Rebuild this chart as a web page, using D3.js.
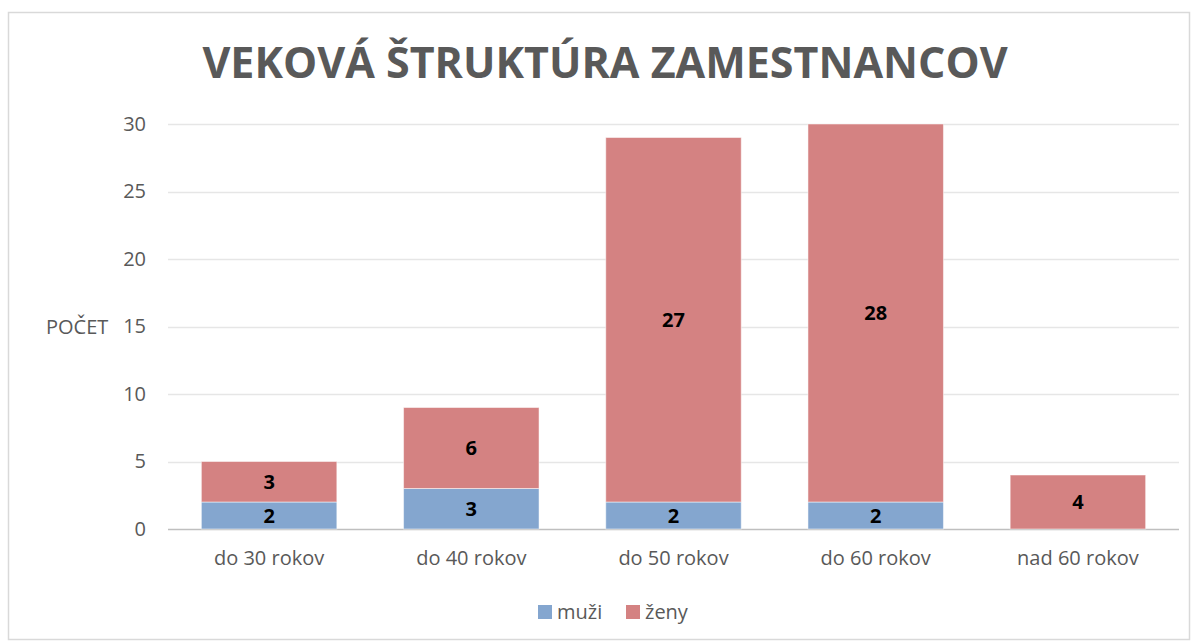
<!DOCTYPE html>
<html>
<head>
<meta charset="utf-8">
<script src="https://cdn.jsdelivr.net/npm/d3@7"></script>
<style>
  body { margin: 0; background: #fff; }
  text { font-family: "Open Sans", "Noto Sans", sans-serif; }
</style>
</head>
<body>
<svg id="chart" width="1197" height="643"></svg>
<script>
const categories = ['do 30 rokov', 'do 40 rokov', 'do 50 rokov', 'do 60 rokov', 'nad 60 rokov'];
const muzi = [2, 3, 2, 2, 0];
const zeny = [3, 6, 27, 28, 4];
const yTicks = [0, 5, 10, 15, 20, 25, 30];
const seriesNames = ['muži', 'ženy'];
const colors = ['#84a6cf', '#d48282'];

const svg = d3.select('#chart');
const margin = {left: 168, right: 18, top: 124, bottom: 114};
const W = 1197, H = 643;

// ramik grafu
svg.append('rect')
    .attr('x', 8.5).attr('y', 12.5)
    .attr('width', 1181).attr('height', 627)
    .attr('fill', '#fff').attr('stroke', '#d9d9d9').attr('stroke-width', 1.5);

const x = d3.scaleBand()
    .domain(categories)
    .range([margin.left, W - margin.right])
    .paddingInner(0.33)
    .paddingOuter(0.165);

const y = d3.scaleLinear()
    .domain([0, 30])
    .range([H - margin.bottom, margin.top]);

// mriezka
svg.append('g')
    .selectAll('line')
    .data(yTicks)
    .join('line')
    .attr('x1', margin.left).attr('x2', W - margin.right)
    .attr('y1', d => Math.round(y(d)) + 0.5).attr('y2', d => Math.round(y(d)) + 0.5)
    .attr('stroke', d => d === 0 ? '#bfbfbf' : '#e6e6e6')
    .attr('stroke-width', d => d === 0 ? 1.5 : 1.3);

// os y
const yAxis = svg.append('g')
    .attr('transform', `translate(${margin.left},0)`)
    .call(d3.axisLeft(y).tickValues(yTicks).tickSize(0).tickPadding(22));
yAxis.select('.domain').remove();
yAxis.selectAll('text')
    .attr('fill', '#595959')
    .style('font-size', '20px');

// os x
const xAxis = svg.append('g')
    .attr('transform', `translate(0,${H - margin.bottom})`)
    .call(d3.axisBottom(x).tickSize(0).tickPadding(22));
xAxis.select('.domain').remove();
xAxis.selectAll('text')
    .attr('fill', '#595959')
    .style('font-size', '20px');

// skladane stlpce
const rows = categories.map((c, i) => ({cat: c, muzi: muzi[i], zeny: zeny[i]}));
const stack = d3.stack().keys(['muzi', 'zeny'])(rows);

const layers = svg.append('g')
    .selectAll('g')
    .data(stack)
    .join('g')
    .attr('fill', (d, i) => colors[i]);

layers.selectAll('rect')
    .data(d => d)
    .join('rect')
    .attr('x', d => x(d.data.cat))
    .attr('width', x.bandwidth())
    .attr('y', d => y(d[1]))
    .attr('height', d => y(d[0]) - y(d[1]))
    .attr('stroke', '#fff')
    .attr('stroke-opacity', 0.5)
    .attr('stroke-width', 1);

// hodnoty
layers.selectAll('text')
    .data(d => d.filter(p => p[1] - p[0] > 0))
    .join('text')
    .attr('x', d => x(d.data.cat) + x.bandwidth() / 2)
    .attr('y', d => (y(d[0]) + y(d[1])) / 2)
    .attr('dy', '0.36em')
    .attr('text-anchor', 'middle')
    .attr('fill', '#000')
    .style('font-size', '20px')
    .style('font-weight', 'bold')
    .text(d => d[1] - d[0]);

// nadpis
svg.append('text')
    .attr('x', 605).attr('y', 78)
    .attr('text-anchor', 'middle')
    .attr('fill', '#595959')
    .style('font-size', '43px')
    .style('font-weight', 'bold')
    .text('VEKOVÁ ŠTRUKTÚRA ZAMESTNANCOV');

// popis osi y
svg.append('text')
    .attr('x', 46).attr('y', y(15))
    .attr('dy', '0.36em')
    .attr('fill', '#595959')
    .style('font-size', '20px')
    .text('POČET');

// legenda
const legendX = [538, 626];
const legend = svg.append('g')
    .selectAll('g')
    .data(seriesNames)
    .join('g')
    .attr('transform', (d, i) => `translate(${legendX[i]},612)`);
legend.append('rect')
    .attr('x', 0).attr('y', -7)
    .attr('width', 14).attr('height', 14)
    .attr('fill', (d, i) => colors[i]);
legend.append('text')
    .attr('x', 19).attr('dy', '0.36em')
    .attr('fill', '#595959')
    .style('font-size', '20px')
    .text(d => d);
</script>
</body>
</html>
